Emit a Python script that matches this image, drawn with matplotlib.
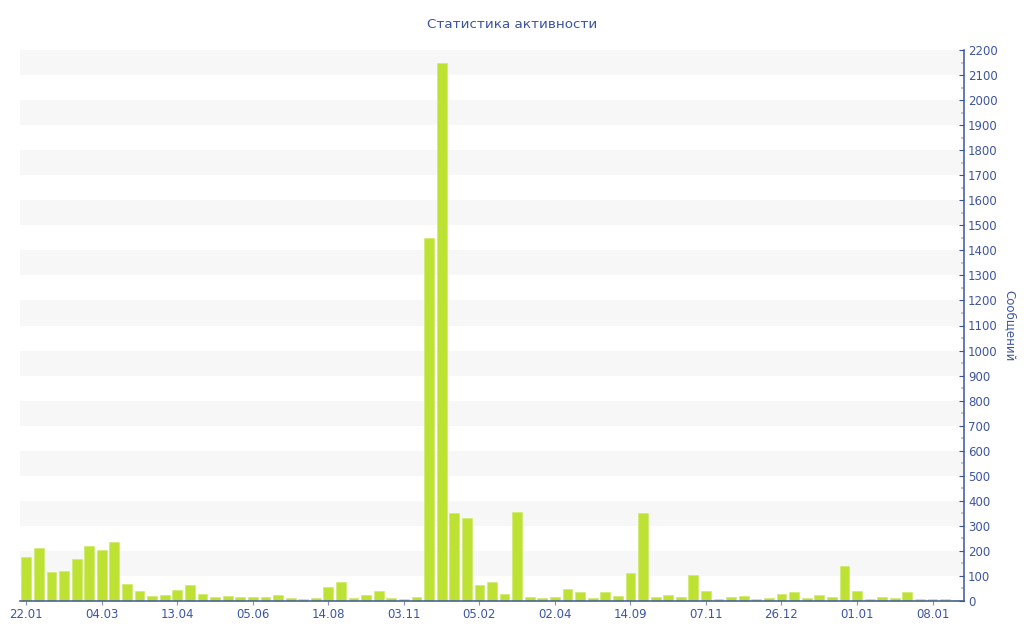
import numpy as np
import matplotlib.pyplot as plt

# weekly message counts
tick_labels = ["22.01", "04.03", "13.04", "05.06", "14.08", "03.11", "05.02",
               "02.04", "14.09", "07.11", "26.12", "01.01", "08.01"]
tick_every = 6
messages = [177, 211, 116, 120, 168, 219, 205, 235, 68, 41,
            19, 24, 45, 65, 29, 15, 21, 17, 17, 17,
            24, 12, 8, 11, 56, 77, 11, 24, 39, 11,
            9, 15, 1450, 2150, 350, 330, 65, 76, 27, 355,
            17, 11, 15, 47, 36, 11, 37, 19, 112, 350,
            16, 23, 16, 103, 41, 9, 16, 19, 8, 11,
            28, 37, 11, 23, 17, 139, 40, 7, 16, 13,
            37, 8, 9, 7, 5]

blue = "#3d55a0"
bar_color = "#bde234"

fig = plt.figure(figsize=(10.24, 6.4), dpi=100)
ax = fig.add_axes([20/1024, 39/640, 944/1024, 551/640])

x = np.arange(len(messages))
ymax = 2200

# alternating bands
for lo in range(100, ymax, 200):
    ax.axhspan(lo, lo+100, color="#f7f7f7", zorder=0, lw=0)

ax.bar(x, messages, width=0.78, color=bar_color, edgecolor="#cfeb6c",
       linewidth=0.5, zorder=2)

ax.set_xlim(-0.5, len(messages)-0.5)
ax.set_ylim(0, ymax)

ax.yaxis.tick_right()
ax.yaxis.set_label_position("right")
ax.set_yticks(np.arange(0, ymax+1, 100))
ax.set_yticks(np.arange(50, ymax, 100), minor=True)
ax.tick_params(axis="y", which="major", direction="in", length=3.5,
               color=blue, labelcolor=blue, labelsize=8.5, pad=3)
ax.tick_params(axis="y", which="minor", direction="in", length=2.5,
               color="#c8c8c8", width=1.5)

ax.set_xticks(x[::tick_every])
ax.set_xticklabels(tick_labels)
ax.tick_params(axis="x", direction="out", length=3, color="#8090c0",
               labelcolor=blue, labelsize=8.5, pad=2)

for s in ["top", "left"]:
    ax.spines[s].set_visible(False)
for s in ["bottom", "right"]:
    ax.spines[s].set_color(blue)
    ax.spines[s].set_linewidth(1.1)

ax.set_ylabel("Сообщений", color=blue, fontsize=8.5, rotation=-90,
              labelpad=13)
fig.text(0.5, 1-25/640, "Статистика активности", color=blue, fontsize=9.7,
         ha="center", va="center")

fig.savefig("out.png", dpi=100)
